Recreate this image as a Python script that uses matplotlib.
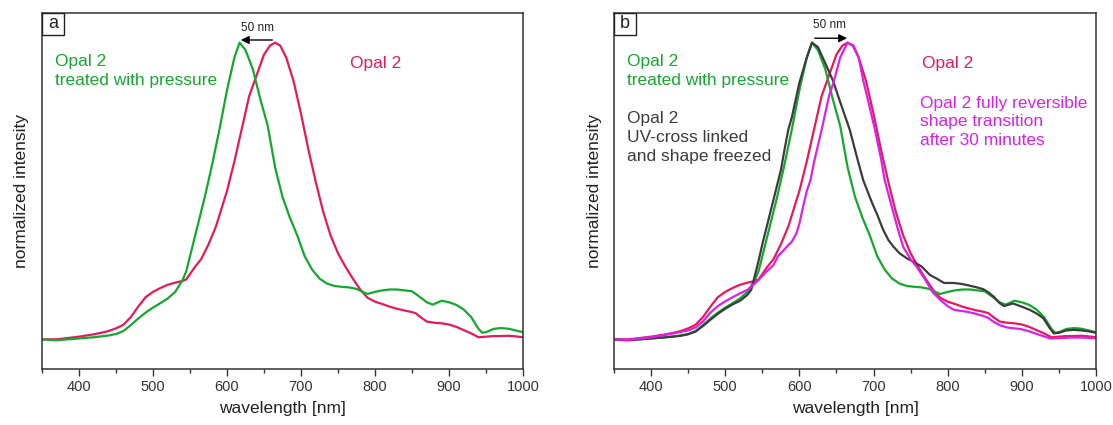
import matplotlib
matplotlib.use("Agg")
import matplotlib.pyplot as plt
from matplotlib.patches import Rectangle
from matplotlib.ticker import MultipleLocator

plt.rcParams['font.family'] = ['Liberation Sans', 'DejaVu Sans']

# spectra (wavelength nm, normalized intensity)
green_nm = [350, 360, 370, 380, 390, 400, 410, 420, 430, 440, 450, 460, 470, 480, 490,
            500, 510, 520, 530, 540, 545, 550, 555, 560, 570, 580, 590, 600, 610, 617,
            625, 635, 645, 655, 665, 675, 685, 695, 705, 715, 725, 735, 745, 755, 765,
            775, 785, 790, 800, 810, 820, 830, 840, 850, 860, 870, 878, 890, 900, 910,
            920, 930, 940, 945, 952, 960, 970, 980, 990, 1000]
green_int = [0.0, -0.002, -0.003, -0.001, 0.001, 0.003, 0.005, 0.007, 0.01, 0.013, 0.018,
             0.028, 0.048, 0.07, 0.09, 0.107, 0.122, 0.138, 0.16, 0.2, 0.23, 0.28, 0.33,
             0.38, 0.48, 0.59, 0.71, 0.84, 0.95, 1.0, 0.975, 0.91, 0.81, 0.72, 0.58, 0.48,
             0.41, 0.35, 0.28, 0.235, 0.205, 0.188, 0.18, 0.177, 0.175, 0.17, 0.158, 0.153,
             0.16, 0.165, 0.168, 0.168, 0.165, 0.162, 0.144, 0.125, 0.117, 0.13, 0.125,
             0.116, 0.1, 0.075, 0.035, 0.022, 0.026, 0.035, 0.038, 0.036, 0.03, 0.024]

red_nm = [350, 360, 370, 380, 390, 400, 410, 420, 430, 440, 450, 460, 470, 480, 490, 500,
          510, 520, 530, 540, 545, 550, 557, 565, 575, 585, 595, 600, 610, 620, 630, 640,
          650, 658, 665, 672, 680, 690, 700, 710, 720, 730, 740, 750, 760, 770, 780, 790,
          800, 810, 820, 830, 840, 848, 855, 862, 870, 880, 890, 900, 910, 920, 930, 940,
          950, 960, 970, 980, 990, 1000]
red_int = [0.0, 0.0, 0.0, 0.003, 0.006, 0.009, 0.013, 0.017, 0.022, 0.028, 0.037, 0.049,
           0.075, 0.11, 0.142, 0.16, 0.173, 0.184, 0.191, 0.197, 0.202, 0.22, 0.245, 0.27,
           0.32, 0.38, 0.46, 0.5, 0.6, 0.71, 0.82, 0.89, 0.96, 0.99, 1.0, 0.99, 0.95, 0.87,
           0.76, 0.64, 0.53, 0.43, 0.35, 0.29, 0.245, 0.205, 0.168, 0.14, 0.127, 0.119,
           0.11, 0.103, 0.097, 0.093, 0.088, 0.074, 0.06, 0.056, 0.054, 0.05, 0.042, 0.031,
           0.02, 0.007, 0.009, 0.011, 0.011, 0.012, 0.01, 0.007]

gray_nm = [350, 360, 370, 380, 390, 400, 410, 420, 430, 440, 450, 460, 470, 480, 490, 500,
           510, 520, 530, 535, 540, 545, 550, 555, 560, 565, 570, 575, 580, 585, 590, 600,
           610, 617, 625, 635, 645, 655, 668, 677, 686, 698, 705, 713, 720, 727, 735, 745,
           755, 765, 776, 785, 795, 808, 818, 826, 838, 848, 855, 862, 870, 876, 888, 900,
           911, 920, 929, 937, 943, 950, 960, 970, 980, 990, 1000]
gray_int = [0.0, -0.002, -0.003, -0.001, 0.001, 0.003, 0.005, 0.007, 0.009, 0.012, 0.017,
            0.026, 0.045, 0.066, 0.086, 0.103, 0.118, 0.13, 0.15, 0.167, 0.215, 0.265,
            0.32, 0.37, 0.42, 0.47, 0.52, 0.57, 0.64, 0.706, 0.75, 0.865, 0.95, 1.0, 0.985,
            0.93, 0.874, 0.8, 0.706, 0.62, 0.537, 0.46, 0.42, 0.369, 0.335, 0.312, 0.29,
            0.273, 0.26, 0.245, 0.217, 0.205, 0.19, 0.19, 0.187, 0.183, 0.176, 0.169, 0.158,
            0.144, 0.122, 0.112, 0.121, 0.11, 0.099, 0.087, 0.071, 0.04, 0.02, 0.022, 0.03,
            0.032, 0.03, 0.027, 0.022]

magenta_nm = [350, 360, 370, 380, 390, 400, 410, 420, 430, 440, 450, 460, 470, 480, 490,
              500, 510, 520, 530, 535, 545, 553, 565, 571, 575, 583, 590, 596, 600, 605,
              610, 615, 620, 630, 640, 647, 655, 665, 673, 680, 686, 695, 702, 710, 715,
              720, 727, 733, 740, 750, 758, 770, 780, 790, 800, 808, 815, 826, 835, 848,
              855, 862, 870, 880, 890, 898, 910, 920, 930, 938, 950, 965, 980, 990, 1000]
magenta_int = [0.0, -0.001, -0.002, 0.001, 0.004, 0.007, 0.011, 0.015, 0.02, 0.025, 0.03,
               0.04, 0.06, 0.09, 0.112, 0.128, 0.142, 0.155, 0.167, 0.177, 0.2, 0.222, 0.25,
               0.28, 0.29, 0.312, 0.33, 0.357, 0.39, 0.447, 0.5, 0.537, 0.6, 0.706, 0.82,
               0.874, 0.95, 1.0, 0.99, 0.95, 0.874, 0.78, 0.706, 0.61, 0.537, 0.49, 0.425,
               0.37, 0.312, 0.27, 0.245, 0.2, 0.158, 0.133, 0.112, 0.1, 0.097, 0.093, 0.088,
               0.079, 0.072, 0.059, 0.048, 0.04, 0.037, 0.035, 0.027, 0.018, 0.01, 0.003,
               0.004, 0.006, 0.006, 0.005, 0.004]

GREEN = '#14a82e'
RED = '#e8195a'
MAGENTA = '#dc1fee'
GRAY = '#3c3c3c'
LW = 1.6
FS = 12.5

fig = plt.figure(figsize=(11.13, 4.25), dpi=100)
ax_a = fig.add_axes([42 / 1113, 56 / 425, 481 / 1113, 356 / 425])
ax_b = fig.add_axes([614 / 1113, 56 / 425, 482 / 1113, 356 / 425])


def style(ax, letter):
    ax.set_xlim(350, 1000)
    ax.set_ylim(-0.1, 1.1)
    ax.xaxis.set_major_locator(MultipleLocator(100))
    ax.xaxis.set_minor_locator(MultipleLocator(50))
    ax.set_xticks([400, 500, 600, 700, 800, 900, 1000])
    ax.tick_params(axis='x', which='major', direction='out', length=5, width=1,
                   color='#333333', labelsize=10.5, labelcolor='#333333', pad=3)
    ax.tick_params(axis='x', which='minor', direction='out', length=3, width=1, color='#333333')
    ax.set_yticks([])
    for s in ax.spines.values():
        s.set_color('#333333')
        s.set_linewidth(1.1)
    ax.set_xlabel('wavelength [nm]', fontsize=12.5, color='#222222', labelpad=5)
    ax.set_ylabel('normalized intensity', fontsize=12.5, color='#222222', labelpad=9)
    ax.add_patch(Rectangle((0, 1 - 22 / 356), 22 / 481, 22 / 356, transform=ax.transAxes,
                           facecolor='white', edgecolor='#222222', lw=1.0, zorder=5))
    ax.text(11 / 481, 1 - 11 / 356, letter, transform=ax.transAxes, ha='center',
            va='center', fontsize=13, color='#222222', zorder=6)


# panel a
style(ax_a, 'a')
ax_a.plot(red_nm, red_int, color=RED, lw=LW)
ax_a.plot(green_nm, green_int, color=GREEN, lw=LW)
ax_a.annotate('', xy=(615, 1.009), xytext=(665, 1.009),
              arrowprops=dict(arrowstyle='-|>', color='black', lw=1.0, mutation_scale=12))
ax_a.text(641, 1.05, '50 nm', ha='center', va='center', fontsize=8.5, color='#222222')
ax_a.text(367, 0.905, 'Opal 2\ntreated with pressure', color=GREEN, fontsize=FS,
          ha='left', va='center', linespacing=1.3)
ax_a.text(766, 0.93, 'Opal 2', color=RED, fontsize=FS, ha='left', va='center')

# panel b
style(ax_b, 'b')
ax_b.plot(red_nm, red_int, color=RED, lw=LW)
ax_b.plot(green_nm, green_int, color=GREEN, lw=LW)
ax_b.plot(gray_nm, gray_int, color=GRAY, lw=LW)
ax_b.plot(magenta_nm, magenta_int, color=MAGENTA, lw=LW)
ax_b.annotate('', xy=(668, 1.015), xytext=(617, 1.015),
              arrowprops=dict(arrowstyle='-|>', color='black', lw=1.0, mutation_scale=12))
ax_b.text(641, 1.06, '50 nm', ha='center', va='center', fontsize=8.5, color='#222222')
ax_b.text(367, 0.905, 'Opal 2\ntreated with pressure', color=GREEN, fontsize=FS,
          ha='left', va='center', linespacing=1.3)
ax_b.text(367, 0.68, 'Opal 2\nUV-cross linked\nand shape freezed', color=GRAY,
          fontsize=FS, ha='left', va='center', linespacing=1.3)
ax_b.text(766, 0.93, 'Opal 2', color=RED, fontsize=FS, ha='left', va='center')
ax_b.text(763, 0.733, 'Opal 2 fully reversible\nshape transition\nafter 30 minutes',
          color=MAGENTA, fontsize=FS, ha='left', va='center', linespacing=1.3)

fig.savefig('out.png', dpi=100)
